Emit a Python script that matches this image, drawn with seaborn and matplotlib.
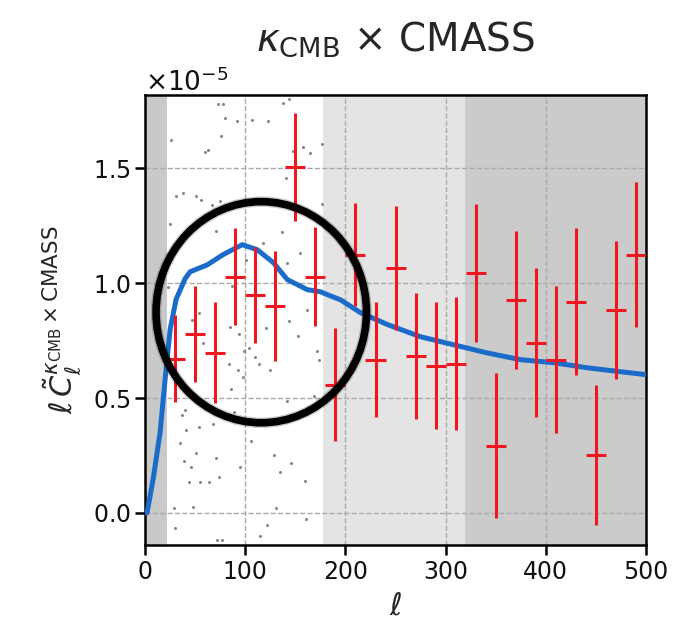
import matplotlib
matplotlib.use("Agg")
import matplotlib.pyplot as plt
from matplotlib.patches import Ellipse
from matplotlib.ticker import MultipleLocator, ScalarFormatter
import seaborn as sns
import numpy as np

SCALE = 1e-5

# measured bandpowers (units of 1e-5)
ell_bins = [30, 50, 70, 90, 110, 130, 150, 170, 190, 210, 230, 250,
            270, 290, 310, 330, 350, 370, 390, 410, 430, 450, 470, 490]
cl_data = [0.671, 0.780, 0.697, 1.029, 0.950, 0.902, 1.508, 1.029, 0.558, 1.125, 0.667, 1.068,
           0.684, 0.641, 0.650, 1.046, 0.292, 0.928, 0.741, 0.667, 0.920, 0.253, 0.885, 1.125]
cl_err = [0.19, 0.21, 0.22, 0.21, 0.21, 0.24, 0.235, 0.214, 0.245, 0.225, 0.25, 0.27,
          0.274, 0.277, 0.29, 0.30, 0.316, 0.30, 0.325, 0.32, 0.32, 0.305, 0.30, 0.317]
bin_halfwidth = 10

# theory curve (units of 1e-5)
ell_theory = [0, 2, 8, 15, 20, 25, 31, 40, 45, 62, 78, 97, 112, 128, 142, 162,
              175, 185, 195, 215, 242, 275, 308, 341, 375, 408, 441, 474, 500]
cl_theory = [0.0, 0.0, 0.144, 0.349, 0.58, 0.798, 0.93, 1.02, 1.05, 1.08, 1.125, 1.168,
             1.146, 1.09, 1.016, 0.972, 0.963, 0.945, 0.928, 0.872, 0.82, 0.767, 0.732,
             0.697, 0.667, 0.654, 0.632, 0.615, 0.602]

# background speckle dots (units of 1e-5)
dots_ell = [73, 78, 80, 91.5, 106.5, 123, 138, 144, 26, 76, 60, 63, 147.5, 158, 165, 176.5,
            31, 38, 51, 56, 66.5, 75, 140.5, 176.5, 25, 71, 136.5, 117.5, 100.7, 141.5, 155,
            23.3, 86.7, 54.3, 47.3, 58.3, 84.3, 93.3, 103.3, 99, 109.3, 113.3, 83.3, 92.7,
            97.7, 85.7, 124.3, 120.7, 143.3, 161.7, 152.3, 171.7, 174, 168.3, 141.7, 40,
            37.3, 41, 53.7, 68.3, 35.3, 50.7, 39.3, 46.3, 44.3, 55.3, 64, 70.7, 74.3, 94.3,
            105.3, 128.3, 134.7, 145.7, 159.7, 29.3, 48.3, 30.3, 72.3, 77, 114.7, 121.7,
            130.3, 161, 88.3]
dots_val = [1.779, 1.779, 1.72, 1.706, 1.709, 1.706, 1.786, 1.803, 1.626, 1.64, 1.571, 1.582,
            1.575, 1.594, 1.568, 1.608, 1.379, 1.394, 1.382, 1.361, 1.343, 1.357, 1.459, 1.347,
            1.258, 1.229, 1.224, 1.176, 1.103, 1.088, 1.132, 0.984, 0.987, 0.87, 0.838, 0.74,
            0.808, 0.779, 0.718, 0.703, 0.678, 0.65, 0.65, 0.623, 0.591, 0.539, 0.623, 0.805,
            0.834, 0.882, 0.772, 0.703, 0.667, 0.51, 0.488, 0.449, 0.427, 0.362, 0.376, 0.388,
            0.303, 0.26, 0.224, 0.199, 0.135, 0.135, 0.135, 0.24, 0.158, 0.199, 0.311, 0.254,
            0.176, 0.218, 0.137, 0.023, 0.027, -0.067, -0.12, -0.12, -0.102, -0.054, 0.023,
            -0.025, 0.439]

# shaded ell ranges
band_edges = [0, 22, 178, 319, 500]
band_colors = ["#c9c9c9", "#ffffff", "#e4e4e4", "#cbcbcb"]

# highlight circle (ell, value in 1e-5)
circle_center = (116, 0.874)
circle_size = (210, 0.963)

sns.set_theme(style="ticks")
plt.rcParams["font.family"] = ["DejaVu Sans"]
plt.rcParams["mathtext.fontset"] = "dejavusans"

fig = plt.figure(figsize=(6.73, 6.4), dpi=100)
ax = fig.add_axes([0.2155, 0.1484, 0.7445, 0.7032])
ax.set_facecolor("white")

for lo, hi, c in zip(band_edges[:-1], band_edges[1:], band_colors):
    ax.axvspan(lo, hi, color=c, lw=0, zorder=0)

sns.scatterplot(x=dots_ell, y=np.array(dots_val) * SCALE, color="#8a8a8a", s=5,
                linewidth=0, ax=ax, zorder=1)

sns.lineplot(x=ell_theory, y=np.array(cl_theory) * SCALE, color="#1b6cc9", lw=3.6,
             ax=ax, zorder=3)

ax.errorbar(ell_bins, np.array(cl_data) * SCALE, xerr=bin_halfwidth,
            yerr=np.array(cl_err) * SCALE, fmt="none", ecolor="#f01820",
            elinewidth=2.2, capsize=0, zorder=4)

cx, cy = circle_center
w, h = circle_size
ax.add_patch(Ellipse((cx, cy * SCALE), w, h * SCALE, fill=False, ec="black",
                     lw=7.5, alpha=0.2, zorder=5))
ax.add_patch(Ellipse((cx, cy * SCALE), w, h * SCALE, fill=False, ec="black",
                     lw=5.5, zorder=6))

ax.set_xlim(0, 500)
ax.set_ylim(-0.14 * SCALE, 1.82 * SCALE)
ax.xaxis.set_major_locator(MultipleLocator(100))
ax.yaxis.set_major_locator(MultipleLocator(0.5 * SCALE))
fmt = ScalarFormatter(useMathText=True)
fmt.set_powerlimits((-3, 3))
ax.yaxis.set_major_formatter(fmt)

ax.grid(True, ls="--", color="#aaaaaa", lw=1.0)
ax.set_axisbelow(True)
for sp in ax.spines.values():
    sp.set_color("black")
    sp.set_linewidth(1.8)
ax.tick_params(direction="out", length=7, width=1.8, labelsize=17, color="black",
               labelcolor="#111111")
ax.yaxis.get_offset_text().set_fontsize(19)

ax.set_title(r"$\kappa_{\rm CMB}$ $\times$ CMASS", fontsize=28, pad=32)
ax.set_xlabel(r"$\ell$", fontsize=22, labelpad=6)
ax.set_ylabel(r"$\ell\,\tilde{C}_{\ell}^{\kappa_{\rm CMB}\times{\rm CMASS}}$", fontsize=22,
              labelpad=6)

fig.savefig("out.png", dpi=100)
